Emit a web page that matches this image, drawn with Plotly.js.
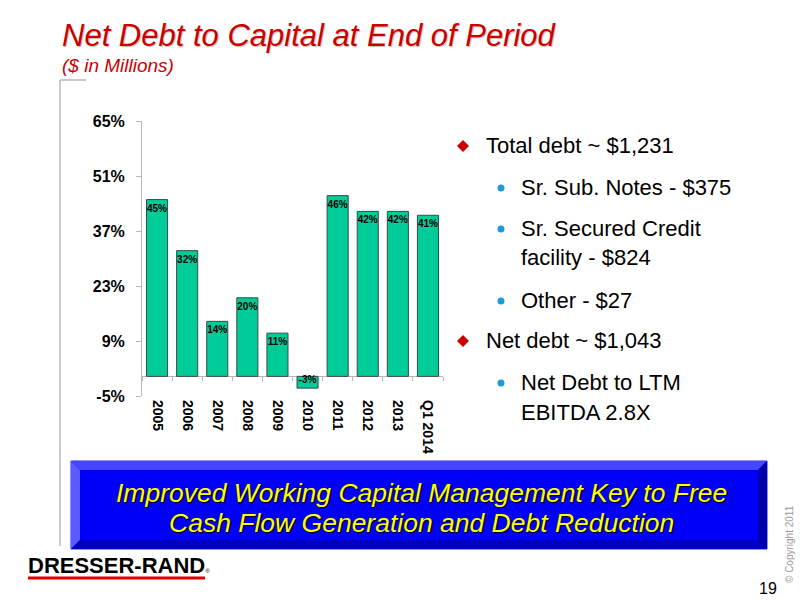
<!DOCTYPE html>
<html>
<head>
<meta charset="utf-8">
<script src="https://cdn.plot.ly/plotly-3.0.1.min.js"></script>
<style>
  html, body { margin: 0; padding: 0; background: #fff; }
  #chart { width: 800px; height: 600px; }
</style>
</head>
<body>
<div id="chart"></div>
<script>
// ---- Data ----
const categories = ['2005', '2006', '2007', '2008', '2009', '2010', '2011', '2012', '2013', 'Q1 2014'];
const netDebtToCapital = [45, 32, 14, 20, 11, -3, 46, 42, 42, 41];
const barLabels = ['45%', '32%', '14%', '20%', '11%', '-3%', '46%', '42%', '42%', '41%'];
const yTickValues = [-5, 9, 23, 37, 51, 65];
const yTickLabels = ['-5%', '9%', '23%', '37%', '51%', '65%'];

const titleText = 'Net Debt to Capital at End of Period';
const subtitleText = '($ in Millions)';
const bulletLevels = [1, 2, 2, 0, 2, 1, 2, 0];
const bulletTexts = [
  'Total debt ~ $1,231',
  'Sr. Sub. Notes - $375',
  'Sr. Secured Credit',
  'facility - $824',
  'Other - $27',
  'Net debt ~ $1,043',
  'Net Debt to LTM',
  'EBITDA 2.8X'
];
const calloutLines = [
  'Improved Working Capital Management Key to Free',
  'Cash Flow Generation and Debt Reduction'
];

// ---- Helpers (pixel -> paper) ----
const W = 800, H = 600;
const px = x => x / W;
const py = y => 1 - y / H;

const FONT = 'Liberation Sans, Arial, sans-serif';
const yMin = -5, yMax = 65;
const yDomain = [py(396), py(121)];
const xDomain = [px(142), px(443)];
const zeroPos = yDomain[0] + (0 - yMin) / (yMax - yMin) * (yDomain[1] - yDomain[0]);

const traces = [
  {
    type: 'bar',
    x: categories,
    y: netDebtToCapital,
    text: barLabels,
    textposition: 'inside',
    insidetextanchor: 'end',
    constraintext: 'none',
    textangle: 0,
    textfont: { family: FONT, size: 10, color: '#000', weight: 'bold' },
    marker: { color: '#00CC99', line: { color: '#3a4a44', width: 1 } },
    hoverinfo: 'skip',
    cliponaxis: false
  },
  {
    type: 'bar',
    x: categories,
    y: netDebtToCapital,
    xaxis: 'x2',
    marker: { color: 'rgba(0,0,0,0)' },
    hoverinfo: 'skip',
    showlegend: false
  }
];

// Annotations
const annotations = [];
annotations.push({
  xref: 'paper', yref: 'paper', x: px(60), y: py(35), xanchor: 'left', yanchor: 'middle',
  text: titleText, showarrow: false,
  font: { family: FONT, size: 31, color: '#CC0000', style: 'italic', shadow: '1px 1px 1px rgba(0,0,0,0.25)' }
});
annotations.push({
  xref: 'paper', yref: 'paper', x: px(60), y: py(66), xanchor: 'left', yanchor: 'middle',
  text: subtitleText, showarrow: false,
  font: { family: FONT, size: 19, color: '#CC0000', style: 'italic' }
});

const bulletY = [145, 187, 228, 258, 300, 340, 382, 412];
const shapes = [];
bulletTexts.forEach((t, i) => {
  const lvl = bulletLevels[i];
  const isMain = lvl === 1;
  annotations.push({
    xref: 'paper', yref: 'paper',
    x: px(isMain ? 484 : 519), y: py(bulletY[i]),
    xanchor: 'left', yanchor: 'middle', showarrow: false,
    text: t, font: { family: FONT, size: 22, color: '#000' }
  });
  if (lvl === 1) {
    const cx = 463, cy = bulletY[i] + 1, r = 6;
    shapes.push({
      type: 'path', xref: 'paper', yref: 'paper',
      path: `M ${px(cx)} ${py(cy - r)} L ${px(cx + r)} ${py(cy)} L ${px(cx)} ${py(cy + r)} L ${px(cx - r)} ${py(cy)} Z`,
      fillcolor: '#CC0000', line: { width: 0 }
    });
  } else if (lvl === 2) {
    const cx = 501, cy = bulletY[i] + 1, r = 3.5;
    shapes.push({
      type: 'circle', xref: 'paper', yref: 'paper',
      x0: px(cx - r), x1: px(cx + r), y0: py(cy + r), y1: py(cy - r),
      fillcolor: '#1E9BD7', line: { width: 0 }
    });
  }
});

// Frame lines at upper-left
shapes.push({ type: 'line', xref: 'paper', yref: 'paper', x0: px(60), x1: px(86), y0: py(80), y1: py(80), line: { color: '#b8b8b8', width: 1.5 } });
shapes.push({ type: 'line', xref: 'paper', yref: 'paper', x0: px(60), x1: px(60), y0: py(80), y1: py(546), line: { color: '#b8b8b8', width: 1.5 } });

// Blue bevelled callout box
const bx0 = 71, bx1 = 767, by0 = 461, by1 = 549, bv = 9;
shapes.push({ type: 'rect', xref: 'paper', yref: 'paper', x0: px(bx0), x1: px(bx1), y0: py(by1), y1: py(by0), fillcolor: '#0000FA', line: { color: '#2020ff', width: 1 } });
// top bevel
shapes.push({ type: 'path', xref: 'paper', yref: 'paper', line: { width: 0 }, fillcolor: '#4646FF',
  path: `M ${px(bx0)} ${py(by0)} L ${px(bx1)} ${py(by0)} L ${px(bx1 - bv)} ${py(by0 + bv)} L ${px(bx0 + bv)} ${py(by0 + bv)} Z` });
// left bevel
shapes.push({ type: 'path', xref: 'paper', yref: 'paper', line: { width: 0 }, fillcolor: '#5a5aFF',
  path: `M ${px(bx0)} ${py(by0)} L ${px(bx0 + bv)} ${py(by0 + bv)} L ${px(bx0 + bv)} ${py(by1 - bv)} L ${px(bx0)} ${py(by1)} Z` });
// right bevel
shapes.push({ type: 'path', xref: 'paper', yref: 'paper', line: { width: 0 }, fillcolor: '#0000A8',
  path: `M ${px(bx1)} ${py(by0)} L ${px(bx1)} ${py(by1)} L ${px(bx1 - bv)} ${py(by1 - bv)} L ${px(bx1 - bv)} ${py(by0 + bv)} Z` });
// bottom bevel
shapes.push({ type: 'path', xref: 'paper', yref: 'paper', line: { width: 0 }, fillcolor: '#0000C0',
  path: `M ${px(bx0)} ${py(by1)} L ${px(bx0 + bv)} ${py(by1 - bv)} L ${px(bx1 - bv)} ${py(by1 - bv)} L ${px(bx1)} ${py(by1)} Z` });

const calloutY = [493, 523];
calloutLines.forEach((t, i) => {
  annotations.push({
    xref: 'paper', yref: 'paper', x: px(421), y: py(calloutY[i]),
    xanchor: 'center', yanchor: 'middle', showarrow: false, text: t,
    font: { family: FONT, size: 26.5, color: '#FFFF00', style: 'italic', shadow: '1px 1px 1px #000' }
  });
});

// Logo
annotations.push({
  xref: 'paper', yref: 'paper', x: px(26), y: py(565), xanchor: 'left', yanchor: 'middle', showarrow: false,
  text: '<b>DRESSER-RAND</b><span style="font-size:6px">®</span>',
  font: { family: 'Liberation Sans Narrow, Arial Narrow, Liberation Sans, sans-serif', size: 22, color: '#000' }
});
shapes.push({ type: 'line', xref: 'paper', yref: 'paper', x0: px(28), x1: px(205), y0: py(578), y1: py(578), line: { color: '#E00000', width: 3 } });

// Page number and copyright
annotations.push({
  xref: 'paper', yref: 'paper', x: px(768), y: py(588), xanchor: 'center', yanchor: 'middle', showarrow: false,
  text: '19', font: { family: FONT, size: 16, color: '#000' }
});
annotations.push({
  xref: 'paper', yref: 'paper', x: px(789), y: py(544), xanchor: 'center', yanchor: 'middle', showarrow: false,
  text: '© Copyright 2011', textangle: -90, font: { family: FONT, size: 10, color: '#9a9a9a' }
});

const layout = {
  width: W, height: H,
  margin: { l: 0, r: 0, t: 0, b: 0 },
  paper_bgcolor: '#fff', plot_bgcolor: 'rgba(0,0,0,0)',
  showlegend: false,
  bargap: 0.3,
  font: { family: FONT },
  xaxis: {
    domain: xDomain, anchor: 'y', type: 'category',
    showline: false, ticks: '', showgrid: false, zeroline: false,
    tickangle: 90, ticklabelstandoff: 3,
    tickfont: { family: FONT, size: 14, color: '#000', weight: 'bold' }
  },
  xaxis2: {
    domain: xDomain, overlaying: 'x', anchor: 'free', position: zeroPos, type: 'category',
    showline: false, showgrid: false, zeroline: false, showticklabels: false,
    ticks: 'outside', tickson: 'boundaries', ticklen: 4, tickcolor: '#b8b8b8', tickwidth: 1
  },
  yaxis: {
    domain: yDomain, anchor: 'x', range: [yMin, yMax],
    tickvals: yTickValues, ticktext: yTickLabels,
    showline: true, linecolor: '#b8b8b8', linewidth: 1,
    ticks: 'outside', ticklen: 5, tickcolor: '#b8b8b8',
    showgrid: false, zeroline: true, zerolinecolor: '#b8b8b8', zerolinewidth: 1,
    ticklabelstandoff: 8,
    tickfont: { family: FONT, size: 16, color: '#000', weight: 'bold' }
  },
  shapes: shapes,
  annotations: annotations
};

Plotly.newPlot('chart', traces, layout, { displayModeBar: false, staticPlot: true });
</script>
</body>
</html>
